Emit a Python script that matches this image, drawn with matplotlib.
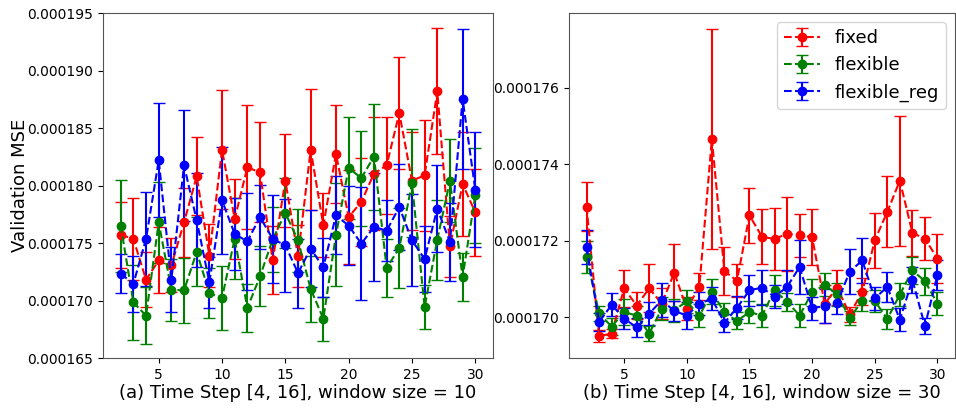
import numpy as np
import matplotlib
matplotlib.use("Agg")
import matplotlib.pyplot as plt
from matplotlib.ticker import FormatStrFormatter

steps = list(range(2, 31))
scale = 1e-6

# Panel (a): window size = 10
fixed_a = [175.72, 175.35, 171.81, 173.49, 173.06, 176.80, 180.80, 173.90, 183.12, 177.09,
           181.58, 181.14, 173.49, 180.42, 173.84, 183.12, 176.54, 182.74, 177.26, 178.57,
           181.03, 181.75, 186.30, 180.42, 180.88, 188.19, 174.71, 180.13, 177.67]
fixed_a_err = [2.87, 3.56, 2.4, 2.88, 2.35, 3.0, 3.4, 2.75, 5.16, 3.5, 5.4, 4.35, 2.95, 4.06,
               2.7, 5.27, 2.77, 4.25, 4.1, 3.8, 4.9, 4.2, 4.87, 4.25, 4.8, 5.47, 2.64, 4.48, 3.8]
flex_a = [176.51, 169.84, 168.68, 176.80, 170.94, 170.88, 174.22, 170.65, 170.22, 175.38,
          169.35, 172.10, 175.30, 177.61, 175.23, 171.00, 168.42, 175.72, 181.52, 180.65,
          182.51, 172.83, 174.57, 180.19, 169.43, 175.29, 180.42, 172.04, 179.14]
flex_a_err = [4.0, 3.27, 2.5, 3.5, 2.7, 2.8, 3.0, 2.2, 2.75, 3.5, 2.1, 2.6, 2.84, 3.04, 2.72,
              2.9, 1.9, 4.5, 4.46, 4.13, 4.6, 2.5, 3.48, 4.7, 1.88, 3.48, 3.62, 2.1, 4.1]
reg_a = [172.33, 171.46, 175.35, 182.19, 171.81, 181.75, 176.97, 171.58, 178.71, 175.78,
         175.14, 177.26, 175.35, 174.80, 172.39, 174.51, 172.88, 177.41, 176.51, 174.94,
         176.39, 176.07, 178.13, 175.23, 173.61, 177.99, 175.09, 187.52, 179.64]
reg_a_err = [1.72, 2.45, 4.1, 4.97, 2.8, 4.8, 4.1, 2.2, 4.64, 3.1, 4.2, 2.8, 3.85, 4.05, 3.0,
             3.33, 2.55, 3.4, 3.44, 4.9, 4.7, 2.65, 3.75, 4.0, 2.85, 3.77, 3.38, 6.1, 5.0]

# Panel (b): window size = 30
fixed_b = [172.89, 169.50, 169.57, 170.75, 170.30, 170.75, 170.35, 171.16, 170.22, 170.79,
           174.66, 171.20, 170.95, 172.66, 172.10, 172.04, 172.18, 172.14, 172.09, 170.35,
           170.77, 170.07, 170.66, 172.01, 172.75, 173.57, 172.20, 172.05, 171.53]
fixed_b_err = [0.65, 0.16, 0.13, 0.48, 0.35, 0.63, 0.4, 0.74, 0.3, 0.35, 2.88, 0.62, 0.43,
               0.72, 0.72, 0.8, 0.97, 0.56, 0.73, 0.5, 0.45, 0.2, 0.35, 0.72, 0.93, 1.7,
               0.61, 0.57, 0.65]
flex_b = [171.57, 170.10, 169.75, 170.13, 170.04, 169.57, 170.22, 170.18, 170.41, 170.03,
          170.66, 170.12, 169.90, 170.13, 170.04, 170.70, 170.40, 170.04, 170.65, 170.84,
          170.60, 169.98, 170.42, 170.42, 169.95, 170.59, 171.22, 170.94, 170.35]
flex_b_err = [0.41, 0.2, 0.23, 0.34, 0.26, 0.2, 0.3, 0.3, 0.3, 0.3, 0.33, 0.24, 0.22, 0.28,
              0.3, 0.4, 0.24, 0.3, 0.35, 0.3, 0.3, 0.18, 0.25, 0.3, 0.25, 0.3, 0.35, 0.35, 0.3]
reg_b = [171.83, 169.87, 170.32, 169.96, 169.73, 170.09, 170.44, 170.16, 170.04, 170.35,
         170.48, 169.85, 170.24, 170.70, 170.77, 170.53, 170.79, 171.31, 170.23, 170.29,
         170.38, 171.19, 171.48, 170.49, 170.79, 169.93, 170.97, 169.77, 171.10]
reg_b_err = [0.45, 0.23, 0.3, 0.27, 0.24, 0.3, 0.45, 0.25, 0.35, 0.3, 0.3, 0.24, 0.3, 0.4,
             0.45, 0.3, 0.45, 0.7, 0.3, 0.45, 0.3, 0.58, 0.6, 0.3, 0.4, 0.3, 0.35, 0.2, 0.38]

labels = ["fixed", "flexible", "flexible_reg"]
colors = ["r", "g", "b"]

fig = plt.figure(figsize=(9.56, 4.12), dpi=100)
ax1 = fig.add_axes([103/956, 54/412, 390/956, 345/412])
ax2 = fig.add_axes([569/956, 54/412, 386/956, 345/412])

def draw(ax, series):
    for (vals, errs), lab, c in zip(series, labels, colors):
        ax.errorbar(steps, np.array(vals) * scale, yerr=np.array(errs) * scale,
                    fmt="o--", color=c, ecolor=c, capsize=4, markersize=6,
                    linewidth=1.5, elinewidth=1.5, label=lab)
    ax.yaxis.set_major_formatter(FormatStrFormatter("%.6f"))
    ax.tick_params(labelsize=10)
    ax.set_xticks([5, 10, 15, 20, 25, 30])
    for s in ax.spines.values():
        s.set_color("#555555")

draw(ax1, [(fixed_a, fixed_a_err), (flex_a, flex_a_err), (reg_a, reg_a_err)])
draw(ax2, [(fixed_b, fixed_b_err), (flex_b, flex_b_err), (reg_b, reg_b_err)])

ax1.set_ylim(0.000165, 0.000195)
ax1.set_ylabel("Validation MSE", fontsize=13, labelpad=-1)
ax1.set_xlabel("(a) Time Step [4, 16], window size = 10", fontsize=13, labelpad=2)
ax2.set_xlabel("(b) Time Step [4, 16], window size = 30", fontsize=13, labelpad=2)
ax2.set_yticks([0.000170, 0.000172, 0.000174, 0.000176])
ax2.legend(loc="upper right", fontsize=13)

fig.savefig("out.png", dpi=100)
